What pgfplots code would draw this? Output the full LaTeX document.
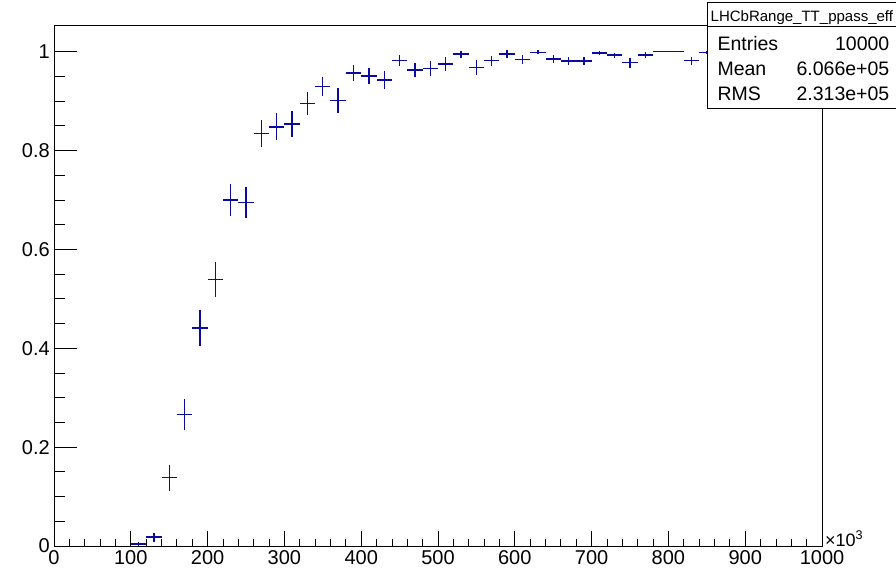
\documentclass[border=0pt]{standalone}
\usepackage{fontspec}
\setmainfont{Liberation Sans}
\usepackage{pgfplots}
\pgfplotsset{compat=1.18}
\definecolor{rootblue}{RGB}{10,10,160}
\begin{document}
\begin{tikzpicture}
\pgfplotsset{
  common/.style={
    scale only axis, width=768pt, height=520.5pt,
    xmin=0, xmax=1000, ymin=0, ymax=1.053,
    axis line style={line width=0.8pt, black},
    tick style={line width=0.8pt, black},
    tick align=inside, tick pos=left,
    /pgf/number format/assume math mode=true,
    /pgf/number format/1000 sep={},
    scaled ticks=false,
    ticklabel style={font=\fontsize{20}{24}\selectfont},
  }
}
\path[use as bounding box] (-54pt,-24pt) rectangle (842pt,546pt);
\begin{axis}[common,
  xtick={0,100,200,300,400,500,600,700,800,900,1000}, minor x tick num=4,
  ytick=\empty,
  major tick length=15pt, minor tick length=7.5pt,
  xticklabel style={yshift=-1pt},
]
\addplot[color=rootblue, line width=1.35pt, only marks, mark=text, text mark={}, forget plot,
  error bars/.cd, x dir=both, x explicit, y dir=both, y explicit,
  error mark=none, error bar style={color=rootblue, line width=1.35pt}]
  table[x=x, y=y, x error=ex, y error=ey] {
x y ex ey
110 0.004 10 0.005
130 0.018 10 0.009
150 0.138 10 0.026
170 0.266 10 0.031
190 0.441 10 0.037
210 0.539 10 0.035
230 0.700 10 0.033
250 0.695 10 0.031
270 0.834 10 0.0277
290 0.848 10 0.027
310 0.854 10 0.026
330 0.895 10 0.0237
350 0.929 10 0.019
370 0.901 10 0.025
390 0.957 10 0.017
410 0.951 10 0.017
430 0.943 10 0.0175
450 0.982 10 0.011
470 0.963 10 0.0135
490 0.966 10 0.015
510 0.975 10 0.0135
530 0.995 10 0.007
550 0.968 10 0.015
570 0.982 10 0.010
590 0.995 10 0.008
610 0.984 10 0.0085
630 0.999 10 0.004
650 0.985 10 0.0075
670 0.981 10 0.008
690 0.981 10 0.008
710 0.997 10 0.004
730 0.993 10 0.005
750 0.978 10 0.010
770 0.993 10 0.006
790 1.000 10 0
810 1.000 10 0
830 0.982 10 0.008
850 0.999 10 0.003
870 0.990 10 0.007
890 0.995 10 0.005
910 0.985 10 0.008
930 1.000 10 0
950 0.990 10 0.007
970 0.995 10 0.005
990 0.990 10 0.007
};
\end{axis}
\begin{axis}[common,
  xtick=\empty,
  ytick={0,0.2,0.4,0.6,0.8,1}, minor y tick num=3,
  major tick length=23pt, minor tick length=11.5pt,
  yticklabel style={inner xsep=4pt},
]
\end{axis}
\node[anchor=base west, inner sep=0pt, font=\fontsize{18}{21}\selectfont] at (771pt,0pt) {×10\textsuperscript{3}};
% stats box
\draw[line width=0.8pt, fill=white] (653pt,438pt) rectangle (846pt,520pt);
\draw[line width=0.8pt, fill=white] (653pt,520pt) rectangle (846pt,544pt);
\node[anchor=base west, inner sep=0pt, font=\fontsize{15}{18}\selectfont] at (656.5pt,524.3pt) {LHCbRange\_TT\_ppass\_eff};
\node[anchor=base west, inner sep=0pt, font=\fontsize{19.5}{23}\selectfont] at (663.3pt,495.3pt) {Entries};
\node[anchor=base west, inner sep=0pt, font=\fontsize{19.5}{23}\selectfont] at (663.3pt,470.3pt) {Mean};
\node[anchor=base west, inner sep=0pt, font=\fontsize{19.5}{23}\selectfont] at (663.3pt,445.3pt) {RMS};
\node[anchor=base east, inner sep=0pt, font=\fontsize{19.5}{23}\selectfont] at (835.5pt,495.3pt) {10000};
\node[anchor=base east, inner sep=0pt, font=\fontsize{19.5}{23}\selectfont] at (835.5pt,470.3pt) {6.066e+05};
\node[anchor=base east, inner sep=0pt, font=\fontsize{19.5}{23}\selectfont] at (835.5pt,445.3pt) {2.313e+05};
\end{tikzpicture}
\end{document}
